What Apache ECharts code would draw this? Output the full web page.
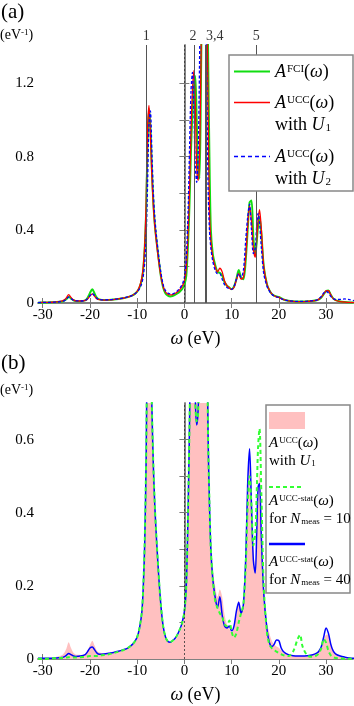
<!DOCTYPE html>
<html>
<head>
<meta charset="utf-8">
<script src="https://cdn.jsdelivr.net/npm/echarts@6/dist/echarts.min.js"></script>
<style>
  html, body { margin: 0; padding: 0; background: #fff; }
  #chart { width: 354px; height: 706px; }
</style>
</head>
<body>
<div id="chart"></div>
<script>
// omega grid (eV), shared by all curves
var omega = [
  -31, -30, -29, -28, -27, -26, -25.5, -25, -24.5, -24,
  -23.5, -23, -22, -21, -20.5, -20, -19.5, -19, -18.5, -18,
  -17, -16, -15, -14, -13, -12, -11, -10.5, -10, -9.5,
  -9, -8.7, -8.4, -8.1, -7.8, -7.5, -7.2, -6.9, -6.6, -6.3,
  -6, -5.5, -5, -4.5, -4, -3.5, -3, -2.5, -2, -1.5,
  -1, -0.5, 0, 0.4, 0.8, 1.1, 1.4, 1.7, 2.0, 2.3,
  2.6, 2.9, 3.2, 3.5, 3.8, 4.1, 4.4, 4.7, 5.0, 5.3,
  5.6, 6.0, 6.5, 7.0, 7.5, 8.0, 8.5, 9.0, 9.5, 10,
  10.5, 11, 11.5, 12, 12.5, 13, 13.4, 13.8, 14.2, 14.6,
  15.0, 15.3, 15.6, 15.9, 16.3, 16.8, 17.5, 18, 18.5, 19,
  19.5, 20, 20.5, 21, 22, 23, 24, 24.5, 25, 26,
  27, 28, 28.5, 29, 29.5, 30, 30.5, 31, 31.5, 32,
  33, 34, 35, 36
];

// (a) A^FCI
var aFci = [
  0.002, 0.003, 0.003, 0.004, 0.005, 0.008, 0.012, 0.02, 0.034, 0.024,
  0.015, 0.011, 0.010, 0.014, 0.028, 0.055, 0.075, 0.05, 0.028, 0.02,
  0.016, 0.017, 0.019, 0.022, 0.026, 0.032, 0.042, 0.05, 0.062, 0.085,
  0.13, 0.19, 0.30, 0.50, 0.88, 1.06, 0.96, 0.74, 0.56, 0.44,
  0.36, 0.25, 0.15, 0.085, 0.052, 0.04, 0.036, 0.038, 0.044, 0.052,
  0.062, 0.075, 0.10, 0.15, 0.34, 0.56, 0.84, 1.04, 1.18, 1.24,
  1.0, 0.74, 0.68, 1.2, 1.9, 2.4, 2.6, 2.2, 1.4, 0.8,
  0.4, 0.27, 0.21, 0.17, 0.165, 0.15, 0.115, 0.095, 0.085, 0.075,
  0.09, 0.13, 0.18, 0.14, 0.13, 0.24, 0.4, 0.55, 0.56, 0.36,
  0.26, 0.33, 0.42, 0.47, 0.38, 0.2, 0.1, 0.07, 0.05, 0.04,
  0.036, 0.033, 0.026, 0.019, 0.012, 0.009, 0.008, 0.008, 0.008, 0.009,
  0.011, 0.015, 0.02, 0.03, 0.048, 0.065, 0.068, 0.045, 0.025, 0.016,
  0.008, 0.005, 0.003, 0.002
];

// (a) A^UCC with U1  (also the shaded curve in (b))
var aUccU1 = [
  0.002, 0.003, 0.003, 0.004, 0.006, 0.01, 0.016, 0.028, 0.046, 0.03,
  0.017, 0.012, 0.011, 0.014, 0.022, 0.038, 0.05, 0.036, 0.022, 0.018,
  0.016, 0.017, 0.019, 0.022, 0.026, 0.032, 0.042, 0.05, 0.064, 0.09,
  0.14, 0.2, 0.32, 0.55, 0.95, 1.08, 0.92, 0.7, 0.54, 0.43,
  0.35, 0.24, 0.15, 0.09, 0.06, 0.048, 0.044, 0.046, 0.052, 0.06,
  0.072, 0.09, 0.12, 0.19, 0.4, 0.64, 0.95, 1.16, 1.27, 1.1,
  0.74, 0.67, 0.8, 1.3, 2.0, 2.5, 2.5, 1.9, 1.1, 0.5,
  0.34, 0.25, 0.2, 0.17, 0.19, 0.17, 0.12, 0.095, 0.082, 0.074,
  0.085, 0.125, 0.16, 0.13, 0.14, 0.26, 0.42, 0.53, 0.45, 0.3,
  0.25, 0.34, 0.45, 0.51, 0.4, 0.2, 0.1, 0.07, 0.05, 0.04,
  0.034, 0.031, 0.024, 0.018, 0.012, 0.009, 0.008, 0.008, 0.008, 0.009,
  0.011, 0.015, 0.021, 0.032, 0.05, 0.066, 0.067, 0.044, 0.024, 0.015,
  0.008, 0.005, 0.003, 0.002
];

// (a) A^UCC with U2
var aUccU2 = [
  0.002, 0.003, 0.003, 0.004, 0.005, 0.008, 0.012, 0.02, 0.032, 0.024,
  0.015, 0.012, 0.011, 0.014, 0.024, 0.04, 0.052, 0.04, 0.025, 0.019,
  0.017, 0.018, 0.02, 0.023, 0.027, 0.033, 0.042, 0.05, 0.06, 0.078,
  0.11, 0.15, 0.22, 0.36, 0.65, 0.98, 1.05, 0.84, 0.62, 0.48,
  0.39, 0.27, 0.17, 0.1, 0.068, 0.055, 0.05, 0.05, 0.056, 0.066,
  0.08, 0.1, 0.14, 0.25, 0.52, 0.86, 1.16, 1.26, 1.05, 0.75,
  0.66, 0.8, 1.3, 2.1, 2.5, 2.4, 1.8, 1.3, 0.65, 0.4,
  0.3, 0.23, 0.18, 0.16, 0.16, 0.13, 0.1, 0.085, 0.078, 0.075,
  0.09, 0.13, 0.16, 0.14, 0.18, 0.35, 0.47, 0.54, 0.4, 0.27,
  0.3, 0.42, 0.49, 0.44, 0.3, 0.16, 0.09, 0.065, 0.048, 0.038,
  0.033, 0.03, 0.024, 0.018, 0.013, 0.01, 0.009, 0.009, 0.009, 0.01,
  0.012, 0.016, 0.024, 0.036, 0.055, 0.064, 0.055, 0.036, 0.024, 0.02,
  0.02, 0.022, 0.018, 0.012
];

// (b) A^UCC-stat, N_meas = 10
var aStat10 = [
  0.001, 0.001, 0.001, 0.002, 0.002, 0.003, 0.003, 0.004, 0.005, 0.004,
  0.004, 0.004, 0.005, 0.006, 0.007, 0.008, 0.008, 0.008, 0.008, 0.009,
  0.011, 0.013, 0.016, 0.02, 0.024, 0.03, 0.04, 0.048, 0.06, 0.085,
  0.13, 0.2, 0.32, 0.55, 0.95, 1.08, 0.92, 0.7, 0.54, 0.43,
  0.35, 0.24, 0.15, 0.09, 0.06, 0.048, 0.046, 0.05, 0.056, 0.066,
  0.08, 0.098, 0.13, 0.2, 0.42, 0.66, 0.95, 1.15, 1.0, 0.7,
  0.65, 0.67, 0.85, 1.3, 2.0, 2.5, 2.4, 1.1, 0.62, 0.43,
  0.3, 0.22, 0.16, 0.14, 0.125, 0.115, 0.095, 0.09, 0.105, 0.075,
  0.058, 0.07, 0.1, 0.125, 0.15, 0.26, 0.42, 0.5, 0.42, 0.31,
  0.34, 0.45, 0.58, 0.63, 0.45, 0.2, 0.07, 0.04, 0.03, 0.025,
  0.02, 0.016, 0.013, 0.01, 0.008, 0.02, 0.055, 0.066, 0.035, 0.01,
  0.006, 0.01, 0.016, 0.03, 0.055, 0.045, 0.022, 0.01, 0.005, 0.003,
  0.002, 0.001, 0.001, 0.001
];

// (b) A^UCC-stat, N_meas = 40
var aStat40 = [
  0.002, 0.002, 0.002, 0.002, 0.003, 0.004, 0.006, 0.01, 0.015, 0.012,
  0.008, 0.007, 0.008, 0.012, 0.02, 0.03, 0.033, 0.025, 0.016, 0.013,
  0.014, 0.016, 0.018, 0.021, 0.025, 0.03, 0.04, 0.048, 0.06, 0.085,
  0.13, 0.2, 0.32, 0.55, 0.95, 1.08, 0.92, 0.7, 0.54, 0.43,
  0.35, 0.24, 0.15, 0.09, 0.06, 0.048, 0.046, 0.05, 0.056, 0.066,
  0.08, 0.098, 0.13, 0.2, 0.42, 0.66, 0.95, 1.15, 1.0, 0.72,
  0.64, 0.68, 0.85, 1.3, 2.0, 2.5, 2.4, 1.1, 0.62, 0.43,
  0.3, 0.22, 0.17, 0.14, 0.17, 0.12, 0.09, 0.085, 0.09, 0.077,
  0.09, 0.13, 0.155, 0.125, 0.15, 0.28, 0.48, 0.575, 0.42, 0.27,
  0.235, 0.34, 0.47, 0.48, 0.33, 0.18, 0.08, 0.045, 0.034, 0.04,
  0.052, 0.05, 0.03, 0.02, 0.012, 0.009, 0.008, 0.008, 0.008, 0.009,
  0.011, 0.016, 0.022, 0.034, 0.06, 0.085, 0.07, 0.04, 0.022, 0.014,
  0.008, 0.005, 0.003, 0.002
];

var xTicks = [-30, -20, -10, 0, 10, 20, 30];
var yTicksA = [0, 0.2, 0.4, 0.6, 0.8, 1.0, 1.2];
var yLabelsA = [0, 0.4, 0.8, 1.2];
var yTicksB = [0, 0.1, 0.2, 0.3, 0.4, 0.5, 0.6];
var yLabelsB = [0, 0.2, 0.4, 0.6];
var peakLines = [-8.05, 2.1, 4.4, 4.6, 15.2];
var peakNames = ['1', '2', '3,4', '5'];
var peakNameAt = [-8.1, 1.8, 6.4, 15.2];

var X_MIN = -31, X_MAX = 35.7, Y_MAX_A = 1.41, Y_MAX_B = 0.7;
var SERIF = '"Liberation Serif", "DejaVu Serif", serif';
var FRAME = '#7a7a7a';

function pairs(ys) {
  return omega.map(function(x, i) { return [x, ys[i]]; });
}

function xAxisBottom(gridIndex) {
  return {
    type: 'value', gridIndex: gridIndex, min: X_MIN, max: X_MAX, position: 'bottom',
    axisLine: { lineStyle: { color: FRAME, width: 1.5 } },
    axisTick: { inside: true, length: 5, customValues: xTicks, lineStyle: { color: FRAME } },
    axisLabel: { customValues: xTicks, fontFamily: SERIF, fontSize: 15, color: '#000', margin: 5 },
    splitLine: { show: false },
    name: '{w|ω} (eV)', nameLocation: 'middle', nameGap: 27,
    nameTextStyle: { fontFamily: SERIF, fontSize: 18, color: '#000',
      rich: { w: { fontFamily: SERIF, fontSize: 18, fontStyle: 'italic', color: '#000' } } }
  };
}
function xAxisTop(gridIndex) {
  return {
    type: 'value', gridIndex: gridIndex, min: X_MIN, max: X_MAX, position: 'top',
    axisLine: { lineStyle: { color: FRAME, width: 1.5 } },
    axisTick: { inside: true, length: 5, customValues: xTicks, lineStyle: { color: FRAME } },
    axisLabel: { show: false },
    splitLine: { show: false }
  };
}
function yAxisLeft(gridIndex, max, ticks, labels) {
  return {
    type: 'value', gridIndex: gridIndex, min: 0, max: max, position: 'left',
    axisLine: { show: true, lineStyle: { color: FRAME, width: 1.5 } },
    axisTick: { show: true, inside: true, length: 5, customValues: ticks, lineStyle: { color: FRAME } },
    axisLabel: { customValues: labels, fontFamily: SERIF, fontSize: 15, color: '#000', margin: 4 },
    splitLine: { show: false }
  };
}
function yAxisRight(gridIndex, max, ticks) {
  return {
    type: 'value', gridIndex: gridIndex, min: 0, max: max, position: 'right',
    axisLine: { show: true, lineStyle: { color: FRAME, width: 1.5 } },
    axisTick: { show: true, inside: true, length: 5, customValues: ticks, lineStyle: { color: FRAME } },
    axisLabel: { show: false },
    splitLine: { show: false }
  };
}

var lineBase = { type: 'line', showSymbol: false, symbol: 'none', smooth: 0.3, silent: true, clip: true };

function curve(name, ys, xi, yi, style, extra) {
  return Object.assign({}, lineBase, { name: name, data: pairs(ys), xAxisIndex: xi, yAxisIndex: yi, lineStyle: style }, extra || {});
}

var vLinesA = peakLines.map(function(v) {
  return { xAxis: v, lineStyle: { color: '#555', width: 1, type: 'solid' } };
});
vLinesA.push({ xAxis: 0, lineStyle: { color: '#333', width: 0.8, type: [2, 2] } });

var markA = {
  silent: true, symbol: ['none', 'none'], label: { show: false }, animation: false,
  data: vLinesA
};
var markB = {
  silent: true, symbol: ['none', 'none'], label: { show: false }, animation: false,
  data: [{ xAxis: 0, lineStyle: { color: '#333', width: 0.8, type: [2, 2] } }]
};

var supRich = {
  a: { fontFamily: SERIF, fontSize: 18, fontStyle: 'italic', color: '#000' },
  n: { fontFamily: SERIF, fontSize: 18, color: '#000' },
  s: { fontFamily: SERIF, fontSize: 11, color: '#000', verticalAlign: 'top', padding: [1, 0, 0, 1] },
  b: { fontFamily: SERIF, fontSize: 11, color: '#000', verticalAlign: 'bottom', padding: [0, 0, 0, 1] }
};
var supRichB = {
  a: { fontFamily: SERIF, fontSize: 15, fontStyle: 'italic', color: '#000' },
  n: { fontFamily: SERIF, fontSize: 15, color: '#000' },
  s: { fontFamily: SERIF, fontSize: 9, color: '#000', verticalAlign: 'top', padding: [1, 0, 0, 1] },
  b: { fontFamily: SERIF, fontSize: 9, color: '#000', verticalAlign: 'bottom', padding: [0, 0, 0, 1] }
};

function txt(x, y, text, rich) {
  return { type: 'text', x: x, y: y, z: 110, silent: true,
    style: { text: text, rich: rich, align: 'left', verticalAlign: 'middle', fill: '#000' } };
}
function seg(x1, x2, y, color, width, dash) {
  return { type: 'line', z: 110, silent: true, shape: { x1: x1, y1: y, x2: x2, y2: y },
    style: { stroke: color, lineWidth: width, lineDash: dash || null } };
}

var unitRich = {
  n: { fontFamily: SERIF, fontSize: 14, color: '#000' },
  s: { fontFamily: SERIF, fontSize: 9, color: '#000', verticalAlign: 'top' }
};
var panelRich = { n: { fontFamily: SERIF, fontSize: 21, color: '#000' } };

var graphic = [
  txt(1, 12, '{n|(a)}', panelRich),
  txt(1, 363, '{n|(b)}', panelRich),
  txt(0, 35, '{n|(eV}{s|-1}{n|)}', unitRich),
  txt(0, 390, '{n|(eV}{s|-1}{n|)}', unitRich),
  // legend (a)
  { type: 'rect', z: 100, silent: true, shape: { x: 229, y: 55, width: 124, height: 136 },
    style: { fill: '#fff', stroke: '#888', lineWidth: 1.5 } },
  seg(234, 270, 71.5, '#11dd11', 2),
  txt(275, 72, '{a|A}{s|FCI}{n|(}{a|ω}{n|)}', supRich),
  seg(234, 270, 102.5, '#ff0000', 1.5),
  txt(275, 103, '{a|A}{s|UCC}{n|(}{a|ω}{n|)}', supRich),
  txt(275, 125, '{n|with }{a|U}{b|1}', supRich),
  seg(234, 270, 156.5, '#0000ff', 1.5, [4, 3]),
  txt(275, 157, '{a|A}{s|UCC}{n|(}{a|ω}{n|)}', supRich),
  txt(275, 179, '{n|with }{a|U}{b|2}', supRich),
  // legend (b)
  { type: 'rect', z: 100, silent: true, shape: { x: 266, y: 405, width: 84, height: 188 },
    style: { fill: '#fff', stroke: '#888', lineWidth: 1.5 } },
  { type: 'rect', z: 110, silent: true, shape: { x: 269, y: 412, width: 36, height: 17 },
    style: { fill: '#ffc0c0' } },
  txt(269, 443, '{a|A}{s|UCC}{n|(}{a|ω}{n|)}', supRichB),
  txt(269, 461, '{n|with }{a|U}{b|1}', supRichB),
  seg(269, 303, 487, '#33ff33', 2, [4, 3]),
  txt(269, 501, '{a|A}{s|UCC-stat}{n|(}{a|ω}{n|)}', supRichB),
  txt(269, 519, '{n|for }{a|N}{b|meas}{n| = 10}', supRichB),
  seg(269, 305, 544, '#0000ff', 2.5),
  txt(269, 562, '{a|A}{s|UCC-stat}{n|(}{a|ω}{n|)}', supRichB),
  txt(269, 580, '{n|for }{a|N}{b|meas}{n| = 40}', supRichB)
];

var chart = echarts.init(document.getElementById('chart'), null, { renderer: 'canvas' });
chart.setOption({
  animation: false,
  backgroundColor: '#fff',
  grid: [
    { left: 38, top: 45, width: 315, height: 258 },
    { left: 38, top: 403, width: 315, height: 256 }
  ],
  xAxis: [xAxisBottom(0), xAxisTop(0), xAxisBottom(1), xAxisTop(1)],
  yAxis: [
    yAxisLeft(0, Y_MAX_A, yTicksA, yLabelsA), yAxisRight(0, Y_MAX_A, yTicksA),
    yAxisLeft(1, Y_MAX_B, yTicksB, yLabelsB), yAxisRight(1, Y_MAX_B, yTicksB)
  ],
  series: [
    curve('FCI', aFci, 0, 0, { color: '#11dd11', width: 2 }, { z: 2 }),
    curve('UCC U1', aUccU1, 0, 0, { color: '#ff0000', width: 1.3 }, { z: 3 }),
    curve('UCC U2', aUccU2, 0, 0, { color: '#0000ff', width: 1.3, type: [3, 2] }, { z: 4, markLine: markA }),
    {
      type: 'scatter', xAxisIndex: 0, yAxisIndex: 0, symbolSize: 0, silent: true, clip: false, z: 5,
      data: peakNameAt.map(function(x, i) { return { name: peakNames[i], value: [x, Y_MAX_A] }; }),
      label: { show: true, position: 'top', distance: 2, formatter: '{b}', fontFamily: SERIF, fontSize: 14, color: '#000' }
    },
    curve('UCC U1 shade', aUccU1, 2, 2, { width: 0, opacity: 0 }, { z: 1, areaStyle: { color: '#ffc0c0', opacity: 1 } }),
    curve('stat 40', aStat40, 2, 2, { color: '#0000ff', width: 1.5 }, { z: 3 }),
    curve('stat 10', aStat10, 2, 2, { color: '#33ff33', width: 2, type: [4, 3] }, { z: 4, markLine: markB })
  ],
  graphic: graphic
});
</script>
</body>
</html>
